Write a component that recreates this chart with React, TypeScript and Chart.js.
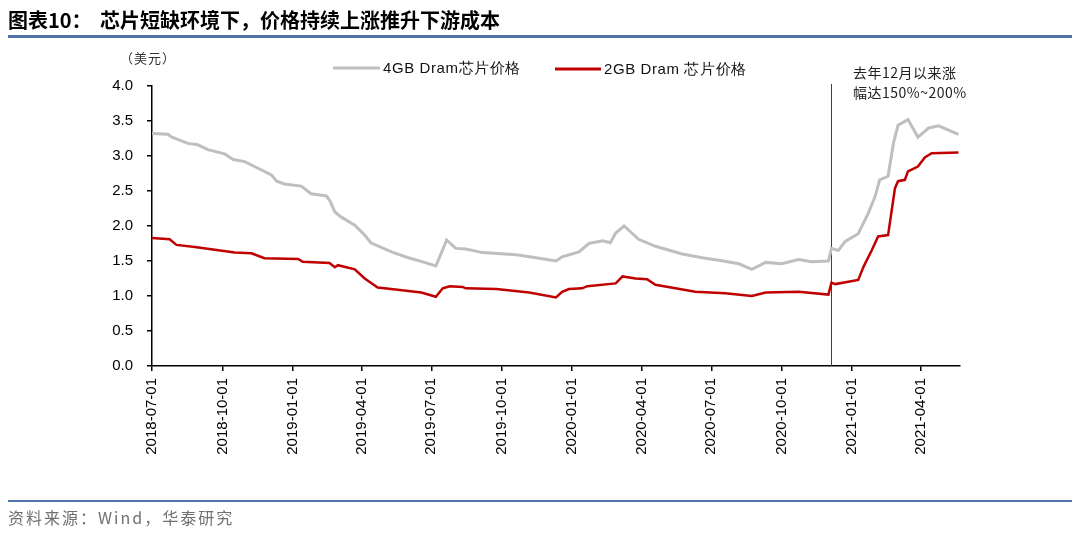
import React, { useEffect, useRef } from "react";
import { Chart, registerables } from "chart.js";

Chart.register(...registerables);

const TITLE_LEAD = "图表10：";
const TITLE_TEXT = "芯片短缺环境下，价格持续上涨推升下游成本";
const SOURCE_TEXT = "资料来源：Wind，华泰研究";
const UNIT_TEXT = "（美元）";
const NOTE_LINES = ["去年12月以来涨", "幅达150%~200%"];
const MARK_DATE = "2020-12-05";

const SERIES_4GB_NAME = "4GB Dram芯片价格";
const SERIES_2GB_NAME = "2GB Dram 芯片价格";

const TICK_LABELS = [
  "2018-07-01", "2018-10-01", "2019-01-01", "2019-04-01", "2019-07-01", "2019-10-01",
  "2020-01-01", "2020-04-01", "2020-07-01", "2020-10-01", "2021-01-01", "2021-04-01",
];
const X_MIN = "2018-07-01";
const X_MAX = "2021-05-22";

const DATES_4GB = [
  "2018-07-01", "2018-07-22", "2018-07-27", "2018-08-17", "2018-08-30", "2018-09-12",
  "2018-10-04", "2018-10-15", "2018-10-30", "2018-11-12", "2018-12-04", "2018-12-11",
  "2018-12-21", "2019-01-12", "2019-01-25", "2019-02-14", "2019-02-19", "2019-02-25",
  "2019-03-05", "2019-03-23", "2019-04-05", "2019-04-13", "2019-05-10", "2019-05-31",
  "2019-06-22", "2019-07-07", "2019-07-14", "2019-07-21", "2019-08-02", "2019-08-15",
  "2019-09-06", "2019-10-20", "2019-11-19", "2019-12-11", "2019-12-19", "2020-01-10",
  "2020-01-23", "2020-02-10", "2020-02-20", "2020-02-27", "2020-03-09", "2020-03-28",
  "2020-04-19", "2020-05-24", "2020-06-23", "2020-07-11", "2020-08-06", "2020-08-23",
  "2020-09-10", "2020-10-01", "2020-10-23", "2020-11-09", "2020-12-01", "2020-12-05",
  "2020-12-14", "2020-12-23", "2021-01-09", "2021-01-22", "2021-01-31", "2021-02-06",
  "2021-02-17", "2021-02-24", "2021-03-02", "2021-03-15", "2021-03-28", "2021-04-11",
  "2021-04-24", "2021-05-20",
];
const VALUES_4GB = [
  3.32, 3.31, 3.27, 3.18, 3.16, 3.09,
  3.03, 2.95, 2.92, 2.85, 2.73, 2.64,
  2.60, 2.57, 2.46, 2.43, 2.35, 2.20,
  2.13, 2.01, 1.87, 1.76, 1.63, 1.55,
  1.48, 1.43, 1.61, 1.80, 1.68, 1.67,
  1.62, 1.59, 1.54, 1.50, 1.56, 1.63,
  1.75, 1.79, 1.76, 1.90, 2.00, 1.81,
  1.71, 1.60, 1.54, 1.51, 1.46, 1.38,
  1.48, 1.46, 1.52, 1.49, 1.50, 1.68,
  1.65, 1.78, 1.89, 2.18, 2.42, 2.66,
  2.71, 3.18, 3.44, 3.52, 3.27, 3.40,
  3.43, 3.31,
];

const DATES_2GB = [
  "2018-07-01", "2018-07-24", "2018-08-02", "2018-08-26", "2018-09-21", "2018-10-17",
  "2018-11-08", "2018-11-25", "2019-01-08", "2019-01-14", "2019-02-18", "2019-02-25",
  "2019-03-01", "2019-03-23", "2019-04-05", "2019-04-22", "2019-05-18", "2019-06-18",
  "2019-07-07", "2019-07-16", "2019-07-25", "2019-08-11", "2019-08-15", "2019-09-24",
  "2019-11-06", "2019-12-11", "2019-12-19", "2019-12-28", "2020-01-14", "2020-01-21",
  "2020-02-27", "2020-03-07", "2020-03-24", "2020-04-08", "2020-04-19", "2020-05-15",
  "2020-06-10", "2020-07-19", "2020-08-23", "2020-09-10", "2020-10-23", "2020-12-01",
  "2020-12-05", "2020-12-10", "2021-01-09", "2021-01-16", "2021-01-27", "2021-02-04",
  "2021-02-17", "2021-02-26", "2021-03-02", "2021-03-11", "2021-03-15", "2021-03-28",
  "2021-04-06", "2021-04-15", "2021-05-20",
];
const VALUES_2GB = [
  1.83, 1.81, 1.73, 1.70, 1.66, 1.62,
  1.61, 1.54, 1.53, 1.49, 1.47, 1.41,
  1.44, 1.38, 1.25, 1.12, 1.09, 1.05,
  0.99, 1.11, 1.14, 1.13, 1.11, 1.10,
  1.05, 0.98, 1.06, 1.10, 1.11, 1.14,
  1.18, 1.28, 1.25, 1.24, 1.16, 1.11,
  1.06, 1.04, 1.00, 1.05, 1.06, 1.02,
  1.19, 1.17, 1.23, 1.42, 1.66, 1.85,
  1.87, 2.54, 2.64, 2.66, 2.78, 2.85,
  2.98, 3.04, 3.05,
];

const COLOR_4GB = "#bfbfbf";
const COLOR_2GB = "#c00000";
const BLUE = "#5175ab";
const LATIN = "'Liberation Sans', Arial, sans-serif";
const CJK = "'Noto Sans CJK SC', sans-serif";

const toMs = (d: string) => Date.parse(d);

const overlayPlugin = {
  id: "overlay",
  beforeDatasetsDraw(chart: any) {
    const ctx = chart.ctx;
    const area = chart.chartArea;
    const px = Math.round(chart.scales.x.getPixelForValue(toMs(MARK_DATE))) + 0.5;
    ctx.save();
    ctx.strokeStyle = "#404040";
    ctx.lineWidth = 1;
    ctx.beginPath();
    ctx.moveTo(px, 84);
    ctx.lineTo(px, area.bottom);
    ctx.stroke();
    ctx.restore();
  },
  afterDraw(chart: any) {
    const ctx = chart.ctx;
    ctx.save();
    ctx.textBaseline = "middle";
    ctx.textAlign = "left";
    // title
    ctx.fillStyle = "#000";
    ctx.font = `bold 20px ${CJK}`;
    ctx.fillText(TITLE_LEAD, 8, 20);
    ctx.fillText(TITLE_TEXT, 100, 20);
    ctx.fillStyle = BLUE;
    ctx.fillRect(8, 35, 1064, 3);
    // footer
    ctx.fillRect(8, 500, 1064, 2);
    ctx.fillStyle = "#707070";
    ctx.font = `16px ${CJK}`;
    ctx.letterSpacing = "2px";
    ctx.fillText(SOURCE_TEXT, 8, 518);
    // unit
    ctx.letterSpacing = "1px";
    ctx.fillStyle = "#333";
    ctx.font = `13px ${CJK}`;
    ctx.fillText(UNIT_TEXT, 120, 58);
    // legend
    ctx.letterSpacing = "0.6px";
    ctx.lineWidth = 3;
    ctx.strokeStyle = COLOR_4GB;
    ctx.beginPath();
    ctx.moveTo(333, 68);
    ctx.lineTo(380, 68);
    ctx.stroke();
    ctx.strokeStyle = COLOR_2GB;
    ctx.beginPath();
    ctx.moveTo(555, 69);
    ctx.lineTo(601, 69);
    ctx.stroke();
    ctx.fillStyle = "#111";
    ctx.font = `15px ${LATIN}`;
    ctx.fillText(SERIES_4GB_NAME, 383, 69);
    ctx.fillText(SERIES_2GB_NAME, 604, 70);
    // note
    ctx.letterSpacing = "0.5px";
    ctx.fillStyle = "#222";
    ctx.font = `14px ${CJK}`;
    ctx.fillText(NOTE_LINES[0], 853, 73);
    ctx.fillText(NOTE_LINES[1], 853, 93);
    ctx.restore();
  },
};

export default function App() {
  const ref = useRef<HTMLCanvasElement | null>(null);
  useEffect(() => {
    if (!ref.current) return;
    const chart = new Chart(ref.current, {
      type: "line",
      data: {
        datasets: [
          {
            label: SERIES_4GB_NAME,
            data: DATES_4GB.map((d, i) => ({ x: toMs(d), y: VALUES_4GB[i] })),
            borderColor: COLOR_4GB,
            backgroundColor: COLOR_4GB,
            borderWidth: 3,
            pointRadius: 0,
            tension: 0,
          },
          {
            label: SERIES_2GB_NAME,
            data: DATES_2GB.map((d, i) => ({ x: toMs(d), y: VALUES_2GB[i] })),
            borderColor: COLOR_2GB,
            backgroundColor: COLOR_2GB,
            borderWidth: 2.5,
            pointRadius: 0,
            tension: 0,
          },
        ],
      },
      options: {
        responsive: false,
        animation: false,
        layout: { padding: { left: 0, top: 86, right: 120, bottom: 0 } },
        plugins: { legend: { display: false }, tooltip: { enabled: false } },
        scales: {
          x: {
            type: "linear",
            min: toMs(X_MIN),
            max: toMs(X_MAX),
            afterFit: (s: any) => {
              s.height = 168;
            },
            afterBuildTicks: (s: any) => {
              s.ticks = TICK_LABELS.map((t) => ({ value: toMs(t) }));
            },
            grid: { drawOnChartArea: false, drawTicks: true, tickLength: 5, color: "#000", lineWidth: 1.5 },
            border: { display: true, color: "#000", width: 1.5 },
            ticks: {
              autoSkip: false,
              maxRotation: 90,
              minRotation: 90,
              padding: 7,
              color: "#000",
              font: { family: LATIN, size: 15 },
              callback: (v: any) => {
                const i = TICK_LABELS.findIndex((t) => toMs(t) === v);
                return i >= 0 ? TICK_LABELS[i] : "";
              },
            },
          },
          y: {
            min: 0,
            max: 4,
            afterFit: (s: any) => {
              s.width = 152;
            },
            grid: { drawOnChartArea: false, drawTicks: true, tickLength: 5, color: "#000", lineWidth: 1.5 },
            border: { display: true, color: "#000", width: 1.5 },
            ticks: {
              stepSize: 0.5,
              padding: 14,
              color: "#000",
              font: { family: LATIN, size: 15 },
              callback: (v: any) => Number(v).toFixed(1),
            },
          },
        },
      },
      plugins: [overlayPlugin],
    } as any);
    return () => chart.destroy();
  }, []);
  return (
    <div style={{ position: "absolute", left: 0, top: 0, width: 1080, height: 534, background: "#fff" }}>
      <canvas ref={ref} width={1080} height={534} style={{ display: "block" }} />
    </div>
  );
}
